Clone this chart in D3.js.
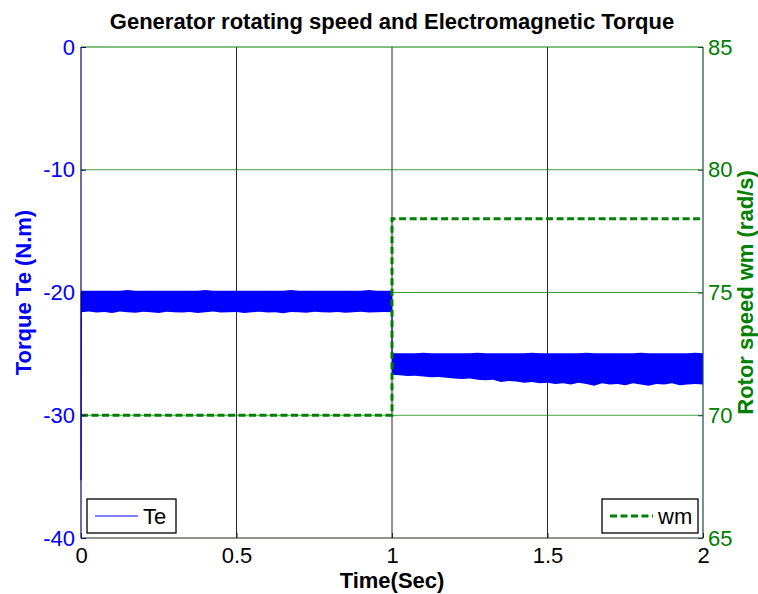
<!DOCTYPE html>
<html>
<head>
<meta charset="utf-8">
<script src="https://cdn.jsdelivr.net/npm/d3@7"></script>
<style>
  html, body { margin: 0; padding: 0; background: #fff; }
  svg { display: block; font-family: "Liberation Sans", Arial, sans-serif; }
</style>
</head>
<body>
<svg id="chart" width="758" height="594"></svg>
<script>
// ---- data ----
const timeTicks = [0, 0.5, 1, 1.5, 2];
const torqueTicks = [0, -10, -20, -30, -40];
const speedTicks = [85, 80, 75, 70, 65];

// rotor speed wm (rad/s): step from 70 to 78 at t = 1 s
const wmTime = [0, 1, 1, 2];
const wmValue = [70, 70, 78, 78];

// start-up transient of Te
const teStartTime = [0, 0.001, 0.002];
const teStartValue = [-35.3, -20.0, -20.6];

// Te ripple band envelope, 0 .. 1 s (every 0.025 s)
const bandATime = d3.range(41).map(i => i * 0.025);
const bandAUpper = [-19.85,-19.85,-19.85,-19.85,-19.85,-19.85,-19.8,-19.85,-19.85,-19.85,
  -19.85,-19.85,-19.85,-19.85,-19.85,-19.85,-19.8,-19.85,-19.85,-19.85,
  -19.85,-19.85,-19.85,-19.85,-19.85,-19.85,-19.85,-19.8,-19.85,-19.85,
  -19.85,-19.85,-19.85,-19.85,-19.85,-19.85,-19.85,-19.8,-19.85,-19.85,-19.85];
const bandALower = [-21.6,-21.55,-21.62,-21.58,-21.66,-21.55,-21.6,-21.64,-21.57,-21.6,
  -21.68,-21.56,-21.6,-21.62,-21.58,-21.66,-21.6,-21.55,-21.63,-21.6,
  -21.58,-21.66,-21.6,-21.57,-21.62,-21.6,-21.7,-21.58,-21.6,-21.64,
  -21.56,-21.6,-21.62,-21.58,-21.65,-21.6,-21.57,-21.62,-21.6,-21.58,-21.6];

// Te ripple band envelope, 1 .. 2 s (every 0.025 s)
const bandBTime = d3.range(41).map(i => 1 + i * 0.025);
const bandBUpper = [-24.95,-24.95,-24.95,-24.95,-24.9,-24.95,-24.95,-24.95,-24.95,-24.95,
  -24.95,-24.9,-24.95,-24.95,-24.95,-24.95,-24.95,-24.95,-24.9,-24.95,
  -24.95,-24.95,-24.95,-24.95,-24.95,-24.9,-24.95,-24.95,-24.95,-24.95,
  -24.95,-24.95,-24.9,-24.95,-24.95,-24.95,-24.95,-24.95,-24.95,-24.9,-24.95];
const bandBLower = [-26.7,-26.75,-26.8,-26.78,-26.85,-26.9,-26.88,-26.95,-27.0,-27.05,
  -27.0,-27.1,-27.15,-27.1,-27.3,-27.2,-27.25,-27.35,-27.3,-27.4,
  -27.35,-27.45,-27.4,-27.5,-27.35,-27.45,-27.6,-27.4,-27.5,-27.45,
  -27.55,-27.4,-27.5,-27.6,-27.45,-27.5,-27.4,-27.55,-27.5,-27.45,-27.5];

// ---- layout ----
const svg = d3.select("#chart");
const plotLeft = 81, plotRight = 703, plotTop = 47, plotBottom = 538;

const x = d3.scaleLinear().domain([0, 2]).range([plotLeft, plotRight]);
const yL = d3.scaleLinear().domain([-40, 0]).range([plotBottom, plotTop]);
const yR = d3.scaleLinear().domain([65, 85]).range([plotBottom, plotTop]);

const BLUE = "#0000ff";
const GREEN = "#008000";
const FONT = "Liberation Sans, Arial, sans-serif";
const FS = 22;

// grid
const grid = svg.append("g");
grid.selectAll("line.v").data(timeTicks.slice(1, -1)).join("line")
  .attr("x1", d => x(d)).attr("x2", d => x(d))
  .attr("y1", plotTop).attr("y2", plotBottom)
  .attr("stroke", "#262626").attr("stroke-width", 1);
grid.selectAll("line.h").data(speedTicks.slice(1, -1)).join("line")
  .attr("x1", plotLeft).attr("x2", plotRight)
  .attr("y1", d => yR(d)).attr("y2", d => yR(d))
  .attr("stroke", GREEN).attr("stroke-opacity", 0.75).attr("stroke-width", 1);

// Te ripple bands
const bandArea = d3.area()
  .x(d => x(d.t)).y0(d => yL(d.lo)).y1(d => yL(d.hi));
const bandA = bandATime.map((t, i) => ({ t, hi: bandAUpper[i], lo: bandALower[i] }));
const bandB = bandBTime.map((t, i) => ({ t, hi: bandBUpper[i], lo: bandBLower[i] }));
svg.append("path").datum(bandA).attr("d", bandArea).attr("fill", BLUE);
svg.append("path").datum(bandB).attr("d", bandArea).attr("fill", BLUE);

// Te start transient and step between the bands
const teLine = d3.line().x(d => x(d[0])).y(d => yL(d[1]));
svg.append("path")
  .datum(teStartTime.map((t, i) => [t, teStartValue[i]]))
  .attr("d", teLine).attr("fill", "none").attr("stroke", BLUE).attr("stroke-width", 1.2);
svg.append("path")
  .datum([[1, bandALower[40]], [1, bandBUpper[0]]])
  .attr("d", teLine).attr("fill", "none").attr("stroke", BLUE).attr("stroke-width", 1);

// wm dashed step
const wmLine = d3.line().x(d => x(d[0])).y(d => yR(d[1]));
svg.append("path")
  .datum(wmTime.map((t, i) => [t, wmValue[i]]))
  .attr("d", wmLine).attr("fill", "none")
  .attr("stroke", GREEN).attr("stroke-width", 3)
  .attr("stroke-dasharray", "7,3.5");

// axis frame
svg.append("line").attr("x1", plotLeft).attr("x2", plotRight).attr("y1", plotTop).attr("y2", plotTop)
  .attr("stroke", GREEN).attr("stroke-width", 1.2);
svg.append("line").attr("x1", plotLeft).attr("x2", plotRight).attr("y1", plotBottom).attr("y2", plotBottom)
  .attr("stroke", "#1f2f1f").attr("stroke-width", 1.2);
svg.append("line").attr("x1", plotLeft).attr("x2", plotLeft).attr("y1", plotTop).attr("y2", plotBottom)
  .attr("stroke", "#0a0a70").attr("stroke-width", 1.2);
svg.append("line").attr("x1", plotRight).attr("x2", plotRight).attr("y1", plotTop).attr("y2", plotBottom)
  .attr("stroke", "#1c4848").attr("stroke-width", 1.2);

// axes (ticks point inward)
const axB = svg.append("g").attr("transform", `translate(0,${plotBottom})`)
  .call(d3.axisBottom(x).tickValues(timeTicks).tickSize(-5).tickPadding(9).tickFormat(d => String(d)));
axB.select(".domain").remove();
axB.selectAll("line").attr("stroke", "#222");
axB.selectAll("text").attr("fill", "#000").style("font-size", FS + "px").style("font-family", FONT);

const axL = svg.append("g").attr("transform", `translate(${plotLeft},0)`)
  .call(d3.axisLeft(yL).tickValues(torqueTicks).tickSize(-5).tickPadding(6).tickFormat(d => String(d)));
axL.select(".domain").remove();
axL.selectAll("line").attr("stroke", "#0a0a70");
axL.selectAll("text").attr("fill", BLUE).style("font-size", FS + "px").style("font-family", FONT);

const axR = svg.append("g").attr("transform", `translate(${plotRight},0)`)
  .call(d3.axisRight(yR).tickValues(speedTicks).tickSize(-5).tickPadding(5).tickFormat(d => String(d)));
axR.select(".domain").remove();
axR.selectAll("line").attr("stroke", "#1c4848");
axR.selectAll("text").attr("fill", GREEN).style("font-size", FS + "px").style("font-family", FONT);

// titles
svg.append("text").attr("x", (plotLeft + plotRight) / 2).attr("y", 29)
  .attr("text-anchor", "middle").attr("font-weight", "bold").attr("font-size", FS)
  .attr("fill", "#000").text("Generator rotating speed and Electromagnetic Torque");
svg.append("text").attr("x", (plotLeft + plotRight) / 2).attr("y", 588)
  .attr("text-anchor", "middle").attr("font-weight", "bold").attr("font-size", FS)
  .attr("fill", "#000").text("Time(Sec)");
svg.append("text").attr("transform", `translate(31,${(plotTop + plotBottom) / 2}) rotate(-90)`)
  .attr("text-anchor", "middle").attr("font-weight", "bold").attr("font-size", FS)
  .attr("fill", BLUE).text("Torque Te (N.m)");
svg.append("text").attr("transform", `translate(753,${(plotTop + plotBottom) / 2}) rotate(-90)`)
  .attr("text-anchor", "middle").attr("font-weight", "bold").attr("font-size", FS)
  .attr("fill", GREEN).text("Rotor speed wm (rad/s)");

// legends
function legend(x0, x1, label, stroke, width, dash) {
  const g = svg.append("g");
  g.append("rect").attr("x", x0).attr("y", 499).attr("width", x1 - x0).attr("height", 34)
    .attr("fill", "#fff").attr("stroke", "#000").attr("stroke-width", 1.3);
  g.append("line").attr("x1", x0 + 8).attr("x2", x0 + 51).attr("y1", 516).attr("y2", 516)
    .attr("stroke", stroke).attr("stroke-width", width).attr("stroke-dasharray", dash);
  g.append("text").attr("x", x0 + 56).attr("y", 524).attr("font-size", FS)
    .attr("fill", "#000").text(label);
}
legend(87, 176, "Te", BLUE, 1, null);
legend(602, 698, "wm", GREEN, 3, "7,3.5");
</script>
</body>
</html>
